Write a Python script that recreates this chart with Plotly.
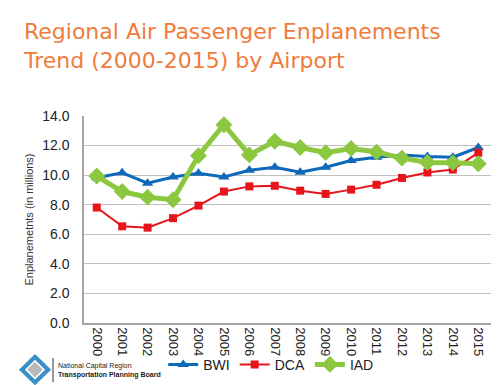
import plotly.graph_objects as go

years = [str(y) for y in range(2000, 2016)]
bwi = [9.83, 10.16, 9.46, 9.87, 10.12, 9.87, 10.33, 10.53, 10.20, 10.53, 10.99, 11.21, 11.37, 11.26, 11.21, 11.87]
dca = [7.81, 6.54, 6.45, 7.09, 7.94, 8.89, 9.24, 9.28, 8.95, 8.73, 9.02, 9.35, 9.81, 10.18, 10.38, 11.52]
iad = [9.94, 8.89, 8.51, 8.34, 11.32, 13.41, 11.37, 12.29, 11.87, 11.52, 11.80, 11.56, 11.15, 10.86, 10.83, 10.77]
y_ticks = [0, 2, 4, 6, 8, 10, 12, 14]
y_tick_labels = ["0.0", "2.0", "4.0", "6.0", "8.0", "10.0", "12.0", "14.0"]

W, H = 500, 385
L, R, T, B = 76, 17, 108, 64
PW, PH = W - L - R, H - T - B


def px(x):
    return (x - L) / PW


def py(y):
    return (H - B - y) / PH


fig = go.Figure()
fig.add_trace(go.Scatter(x=years, y=bwi, name="BWI", mode="lines+markers",
                         line=dict(color="#0f69b9", width=3),
                         marker=dict(symbol="triangle-up", size=10, color="#0f69b9")))
fig.add_trace(go.Scatter(x=years, y=dca, name="DCA", mode="lines+markers",
                         line=dict(color="#e8141b", width=2),
                         marker=dict(symbol="square", size=8, color="#e8141b")))
fig.add_trace(go.Scatter(x=years, y=iad, name="IAD", mode="lines+markers",
                         line=dict(color="#8cc83f", width=5),
                         marker=dict(symbol="diamond", size=13, color="#8cc83f")))

font_fam = "Liberation Sans, Arial, sans-serif"

fig.update_layout(
    width=W, height=H,
    margin=dict(l=L, r=R, t=T, b=B),
    paper_bgcolor="white", plot_bgcolor="white",
    showlegend=True,
    legend=dict(orientation="h", x=0.46, xanchor="center", y=py(364), yanchor="middle",
                font=dict(family=font_fam, size=14, color="#222"),
                itemwidth=30, tracegroupgap=0, bgcolor="rgba(0,0,0,0)"),
    xaxis=dict(type="category", range=[-0.5, 15.5], tickangle=90,
               showgrid=False, showline=True, linecolor="#a6a6a6", linewidth=1.5,
               ticks="", tickfont=dict(family=font_fam, size=13, color="#222")),
    yaxis=dict(range=[0, 14], tickvals=y_ticks, ticktext=y_tick_labels,
               showgrid=True, gridcolor="#c0c0c0", gridwidth=1.2,
               showline=True, linecolor="#a6a6a6", linewidth=1.5, zeroline=False,
               ticks="", ticklabelstandoff=10,
               tickfont=dict(family=font_fam, size=14, color="#222"),
               title=dict(text="Enplanemetnts (in millions)", standoff=6,
                          font=dict(family=font_fam, size=11, color="#333"))),
)

# Title (two lines)
title_font = "DejaVu Sans, Verdana, sans-serif"
fig.add_annotation(text="Regional Air Passenger Enplanements<br>Trend (2000-2015) by Airport",
                   xref="paper", yref="paper", x=px(13), y=py(6),
                   xanchor="left", yanchor="top", align="left", showarrow=False,
                   font=dict(family=title_font, size=22, color="#f07c3c"))

# Logo
cx, cy, r = 27, 369, 14
fig.add_shape(type="path", xref="paper", yref="paper",
              path=f"M {px(cx)},{py(cy - r)} L {px(cx + r)},{py(cy)} L {px(cx)},{py(cy + r)} L {px(cx - r)},{py(cy)} Z",
              fillcolor="#3a8fc9", line=dict(color="#3a8fc9", width=3))
r2 = 9
fig.add_shape(type="path", xref="paper", yref="paper",
              path=f"M {px(cx)},{py(cy - r2)} L {px(cx + r2)},{py(cy)} L {px(cx)},{py(cy + r2)} L {px(cx - r2)},{py(cy)} Z",
              fillcolor="#b8b8b8", line=dict(color="white", width=1.5))
fig.add_shape(type="line", xref="paper", yref="paper",
              x0=px(45), x1=px(45), y0=py(357), y1=py(382), line=dict(color="#333", width=1))
fig.add_annotation(text="National Capital Region<br><b>Transportation Planning Board</b>",
                   xref="paper", yref="paper", x=px(48), y=py(370),
                   xanchor="left", yanchor="middle", align="left", showarrow=False,
                   font=dict(family=font_fam, size=7, color="#222"))

fig.write_html("out.html")
